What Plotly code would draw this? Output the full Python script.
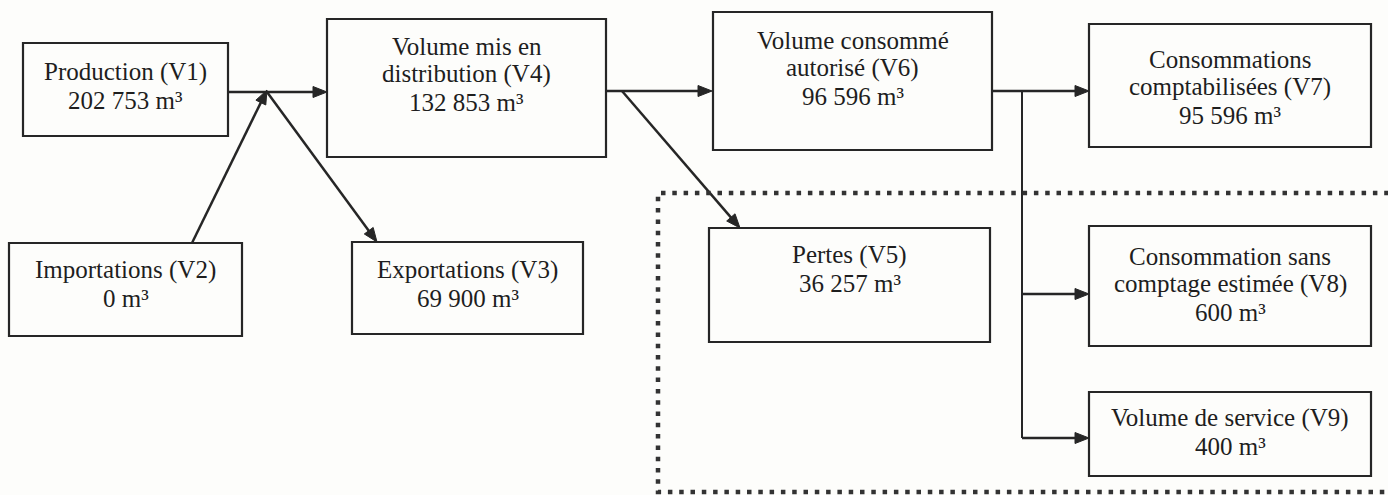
import math
import plotly.graph_objects as go

# ---- data ----
node_ids = ["V1", "V2", "V3", "V4", "V5", "V6", "V7", "V8", "V9"]
node_titles = [
    ["Production (V1)"],
    ["Importations (V2)"],
    ["Exportations (V3)"],
    ["Volume mis en", "distribution (V4)"],
    ["Pertes (V5)"],
    ["Volume consommé", "autorisé (V6)"],
    ["Consommations", "comptabilisées (V7)"],
    ["Consommation sans", "comptage estimée (V8)"],
    ["Volume de service (V9)"],
]
node_values = [202753, 0, 69900, 132853, 36257, 96596, 95596, 600, 400]
unit = "m³"

# ---- layout (pixel-space boxes: x0, x1, y0, y1, first text line centre) ----
boxes = {
    "V1": (23, 228, 43, 136, 72),
    "V2": (9, 242, 243, 336, 270),
    "V3": (352, 583, 242, 334, 270),
    "V4": (327, 606, 19, 157, 46),
    "V5": (709, 990, 228, 342, 255),
    "V6": (713, 992, 12, 150, 40),
    "V7": (1089, 1371, 24, 147, 59),
    "V8": (1089, 1371, 226, 346, 256),
    "V9": (1089, 1371, 392, 476, 418),
}
line_gap = 28

# arrows: (tail x, tail y, head x, head y)
arrows = [
    (228, 92, 327, 92),
    (192, 243, 267, 90),
    (267, 92, 377, 242),
    (606, 91, 712, 91),
    (622, 91, 740, 228),
    (992, 91, 1089, 91),
    (1022, 294, 1089, 294),
    (1022, 438, 1089, 438),
]
plain_lines = [(1022, 91, 1022, 438)]
head_len, head_w = 14, 11

W, H = 1388, 495
ink = "#262626"
fig = go.Figure()

shapes = []
annotations = []

# dotted frame (open on the right)
shapes.append(dict(type="path", xref="x", yref="y",
                   path="M 1400,193 L 658,193 L 658,492 L 1400,492",
                   line=dict(color="#333333", width=4.5, dash="4.5px,6.8px")))

for nid, title, val in zip(node_ids, node_titles, node_values):
    x0, x1, y0, y1, ty = boxes[nid]
    shapes.append(dict(type="rect", xref="x", yref="y", x0=x0, x1=x1, y0=y0, y1=y1,
                       line=dict(color=ink, width=2.2), fillcolor="rgba(0,0,0,0)"))
    lines = list(title) + [f"{val:,}".replace(",", " ") + " " + unit]
    cx = (x0 + x1) / 2
    for i, ln in enumerate(lines):
        annotations.append(dict(x=cx, y=ty + i * line_gap, xref="x", yref="y", text=ln,
                                showarrow=False, xanchor="center", yanchor="middle",
                                font=dict(family="Liberation Serif, Times New Roman, serif",
                                          size=25, color="#1e1e1e")))

for (xa, ya, xb, yb) in plain_lines:
    fig.add_trace(go.Scatter(x=[xa, xb], y=[ya, yb], mode="lines",
                             line=dict(color=ink, width=2), hoverinfo="skip"))

for (xa, ya, xb, yb) in arrows:
    dx, dy = xb - xa, yb - ya
    d = math.hypot(dx, dy)
    ux, uy = dx / d, dy / d
    nx, ny = -uy, ux
    bx, by = xb - head_len * ux, yb - head_len * uy
    fig.add_trace(go.Scatter(x=[xa, bx + ux], y=[ya, by + uy], mode="lines",
                             line=dict(color=ink, width=2.5), hoverinfo="skip"))
    p1 = (bx + nx * head_w / 2, by + ny * head_w / 2)
    p2 = (bx - nx * head_w / 2, by - ny * head_w / 2)
    shapes.append(dict(type="path", xref="x", yref="y",
                       path=f"M {xb},{yb} L {p1[0]:.2f},{p1[1]:.2f} L {p2[0]:.2f},{p2[1]:.2f} Z",
                       fillcolor=ink, line=dict(color=ink, width=1)))

fig.update_layout(
    width=W, height=H, margin=dict(l=0, r=0, t=0, b=0),
    paper_bgcolor="#fdfdfb", plot_bgcolor="#fdfdfb",
    xaxis=dict(range=[0, W], visible=False, fixedrange=True),
    yaxis=dict(range=[H, 0], visible=False, fixedrange=True),
    shapes=shapes, annotations=annotations, showlegend=False,
)
fig.write_html("out.html", config={"displayModeBar": False},
               post_script="document.body.style.margin='0';document.body.style.overflow='hidden';")
